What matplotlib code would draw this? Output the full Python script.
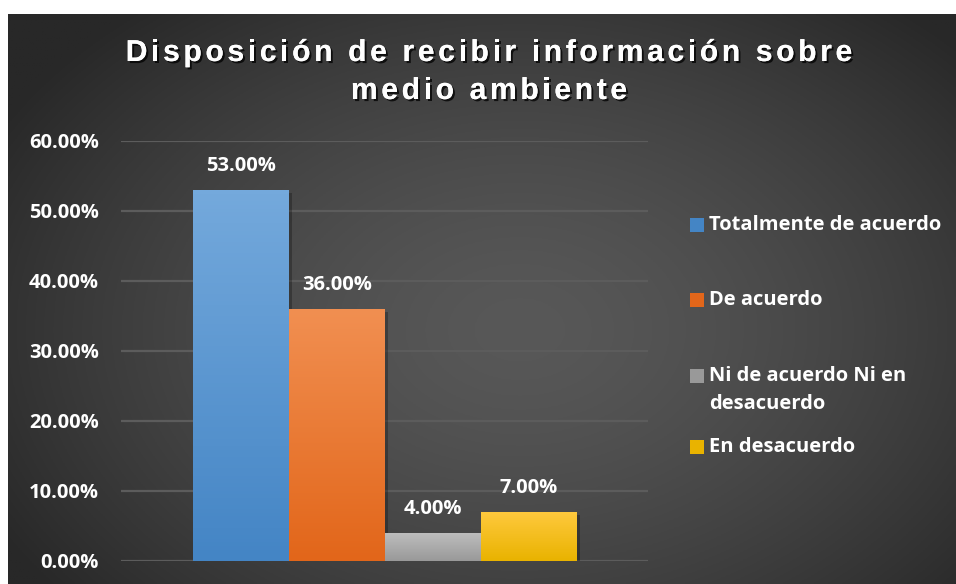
import numpy as np
import matplotlib
matplotlib.use("Agg")
import matplotlib.pyplot as plt
import matplotlib.patheffects as pe
from matplotlib.patches import Rectangle
from matplotlib.colors import LinearSegmentedColormap
from matplotlib.font_manager import FontProperties
from matplotlib.textpath import TextToPath

categorias = ["Totalmente de acuerdo", "De acuerdo", "Ni de acuerdo Ni en\ndesacuerdo", "En desacuerdo"]
valores = [0.53, 0.36, 0.04, 0.07]
ticks_y = [0.0, 0.1, 0.2, 0.3, 0.4, 0.5, 0.6]
titulo = ["Disposición de recibir información sobre", "medio ambiente"]

# colores (arriba, abajo) del degradado de cada barra
colores = [("#74a9dc", "#4485c5"), ("#f18f51", "#e2661a"),
           ("#bdbdbd", "#999999"), ("#ffc93e", "#e9b300")]

W, H = 956, 584
fig = plt.figure(figsize=(W / 100, H / 100), dpi=100)
fig.patch.set_facecolor("white")

def fx(px):
    return px / W

def fy(py):
    return 1 - py / H

# fondo con degradado radial
bg = fig.add_axes([fx(8), 0, 1 - fx(8), 1 - 14 / H])
bg.axis("off")
xx, yy = np.meshgrid(np.linspace(8, W, 400), np.linspace(14, H, 250))
d = np.sqrt(((xx - 520) / 600) ** 2 + ((yy - 330) / 420) ** 2)
d = np.clip(d, 0, 1) ** 1.5
g = (88 - 48 * d) / 255
bg.imshow(np.dstack([g, g, g]), extent=[0, 1, 0, 1], aspect="auto", origin="upper")
bg.set_xlim(0, 1)
bg.set_ylim(0, 1)

ax = fig.add_axes([fx(121), fy(561), fx(648) - fx(121), fy(141) - fy(561)])
ax.set_facecolor("none")
x = np.arange(len(valores))

for t in ticks_y:
    ax.axhline(t, color="#5c5c5c", lw=1.6, zorder=1)

fuente = "Open Sans"
tam = 14.5
barras = ax.bar(x, valores, width=1.0, color="none", zorder=3,
                path_effects=[pe.withSimplePatchShadow(offset=(2.5, -2), shadow_rgbFace="black", alpha=0.25)])
for b, v, (c1, c2) in zip(barras, valores, colores):
    grad = np.linspace(0, 1, 100)[:, None]
    cmap = LinearSegmentedColormap.from_list("g", [c1, c2])
    im = ax.imshow(grad, cmap=cmap, aspect="auto", zorder=4,
                   extent=[b.get_x(), b.get_x() + b.get_width(), 0, v], origin="upper")
    im.set_clip_path(b)
    ax.annotate(f"{v * 100:.2f}%", (b.get_x() + b.get_width() / 2, v),
                xytext=(0, 17), textcoords="offset points", ha="center", va="center",
                color="white", fontsize=tam, fontweight="bold", family=fuente, zorder=5)
ax.set_xlim(-1.247, 4.243)
ax.set_ylim(0, 0.6)

ax.set_xticks([])
ax.set_yticks(ticks_y)
ax.set_yticklabels([f"{t * 100:.2f}%" for t in ticks_y], color="white",
                   fontsize=tam, fontweight="bold", family=fuente)
ax.tick_params(axis="y", length=0, pad=16)
for s in ax.spines.values():
    s.set_visible(False)

# leyenda
ley_y = [225, 300, 376, 447]
for cat, (c1, c2), yc in zip(categorias, colores, ley_y):
    fig.add_artist(Rectangle((fx(690), fy(yc + 7)), fx(14), 14 / H,
                             transform=fig.transFigure, facecolor=c2, edgecolor="none"))
    ytxt = yc + 14 if "\n" in cat else yc
    fig.text(fx(709), fy(ytxt), cat, color="white", fontsize=tam, fontweight="bold",
             family=fuente, va="center", linespacing=1.5,
             transform=fig.transFigure)

# titulo con espaciado entre letras
prop = FontProperties(family="Liberation Sans", weight="bold", size=21.7)
ttp = TextToPath()
espacio = 3.6
sombra = [pe.withSimplePatchShadow(offset=(1.5, -1.5), shadow_rgbFace="black", alpha=0.75), pe.Normal()]
for linea, yc in zip(titulo, [53, 91]):
    anchos = []
    for ch in linea:
        w, h, dsc = ttp.get_text_width_height_descent(ch, prop, ismath=False)
        anchos.append(w * 100 / 72 + espacio)
    total = sum(anchos) - espacio
    xpos = 489 - total / 2
    for ch, w in zip(linea, anchos):
        fig.text(fx(xpos), fy(yc), ch, fontproperties=prop, color="white",
                 va="center", ha="left", path_effects=sombra)
        xpos += w

fig.savefig("out.png", dpi=100, facecolor=fig.get_facecolor())
